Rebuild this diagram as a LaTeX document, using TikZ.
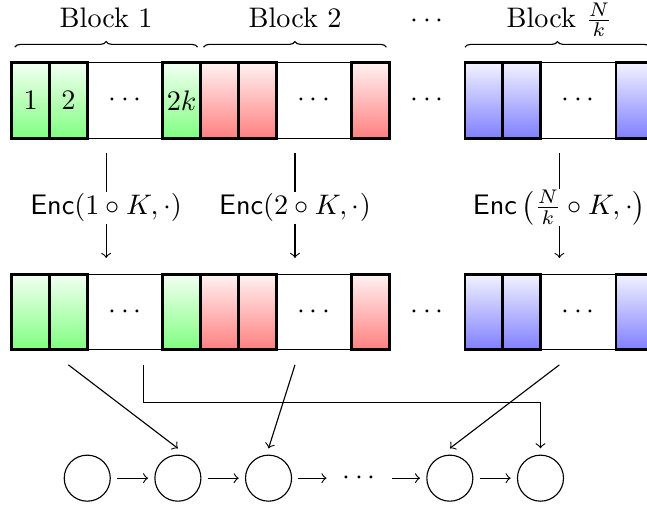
\documentclass[tikz,border=0pt]{standalone}
\usetikzlibrary{decorations.pathreplacing}

\begin{document}
\begin{tikzpicture}[
      x=0.47cm, y=0.47cm,
      row/.style={thin},
      cell/.style={line width=1pt},
      grncell/.style={cell,top color=green!5,bottom color=green!50},
      redcell/.style={cell,top color=red!5,bottom color=red!50},
      bluecell/.style={cell,top color=blue!5,bottom color=blue!50},
      blockbrace/.style={decorate,decoration={brace,amplitude=2pt}},
      encnode/.style={anchor=base,inner sep=0.6pt,outer sep=0pt},
      state/.style={circle,draw,thin,minimum size=16.3pt,inner sep=0pt,outer sep=2.4pt},
      gapdots/.style={outer sep=2.4pt}
    ]
    \useasboundingbox (-0.31,1.66) rectangle (16.82,-11.79);
    % Draw the two rows of cells.
    \foreach \y/\r in {0/a,-5.6/b} {
      \draw[row] (0,\y) rectangle (10,\y-2);
      \draw[row] (12,\y) rectangle (17,\y-2);
      \foreach \x in {0,1,4} \shadedraw[grncell] (\x,\y) rectangle ++(1,-2);
      \foreach \x in {5,6,9} \shadedraw[redcell] (\x,\y) rectangle ++(1,-2);
      \foreach \x in {12,13,16} \shadedraw[bluecell] (\x,\y) rectangle ++(1,-2);
      \node (\r dots1) at (3,\y-1) {$\cdots$};
      \node (\r dots2) at (8,\y-1) {$\cdots$};
      \node (\r dots3) at (11,\y-1) {$\cdots$};
      \node (\r dots4) at (15,\y-1) {$\cdots$};
    }
    \node (n1) at (0.5,-1) {$1$};
    \node (n2) at (1.5,-1) {$2$};
    \node (n2k) at (4.5,-1) {$2k$};
    % Braces and block labels.
    \draw[blockbrace] (0.08,0.41) -- (4.92,0.41);
    \draw[blockbrace] (5.08,0.41) -- (9.92,0.41);
    \draw[blockbrace] (12,0.41) -- (16.9,0.41);
    \node[anchor=base] (blk1) at (2.5,0.94) {Block 1};
    \node[anchor=base] (blk2) at (7.5,0.94) {Block 2};
    \node[anchor=base] (blkdots) at (11,0.94) {$\cdots$};
    \node[anchor=base] (blkN) at (14.5,0.94) {Block $\frac{N}{k}$};
    % Encryption of each block.
    \coordinate (e1top) at (2.5,-2.39);
    \coordinate (e1bot) at (2.5,-5.17);
    \coordinate (e2top) at (7.5,-2.39);
    \coordinate (e2bot) at (7.5,-5.17);
    \coordinate (eNtop) at (14.5,-2.39);
    \coordinate (eNbot) at (14.5,-5.17);
    \node[encnode] (enc1) at (2.5,-4.03) {$\mathsf{Enc}(1\circ K,\cdot)$};
    \node[encnode] (enc2) at (7.5,-4.03) {$\mathsf{Enc}(2\circ K,\cdot)$};
    \node[encnode] (encN) at (14.5,-4.03) {$\mathsf{Enc}\left(\frac{N}{k}\circ K,\cdot\right)$};
    \draw[->] (e1top) -- (enc1) -- (e1bot);
    \draw[->] (e2top) -- (enc2) -- (e2bot);
    \draw[->] (eNtop) -- (encN) -- (eNbot);
    % The chain of states.
    \node[state] (c1) at (2,-11) {};
    \node[state] (c2) at (4.4,-11) {};
    \node[state] (c3) at (6.8,-11) {};
    \node[gapdots] (cdots) at (9.2,-11) {$\cdots$};
    \node[state] (c4) at (11.6,-11) {};
    \node[state] (c5) at (14,-11) {};
    \draw[->] (c1) -- (c2);
    \draw[->] (c2) -- (c3);
    \draw[->] (c3) -- (cdots);
    \draw[->] (cdots) -- (c4);
    \draw[->] (c4) -- (c5);
    % Feeds from the encrypted cells.
    \coordinate (s1) at (1.5,-8);
    \coordinate (s2) at (3.5,-8);
    \coordinate (s3) at (7.5,-8);
    \coordinate (s4) at (14.5,-8);
    \draw[->] (s1) -- (c2.north);
    \draw[->] (s3) -- (c3.north);
    \draw[->] (s4) -- (c4.north);
    \draw[->] (s2) -- ++(0,-1) -| (c5.north);
\end{tikzpicture}
\end{document}
